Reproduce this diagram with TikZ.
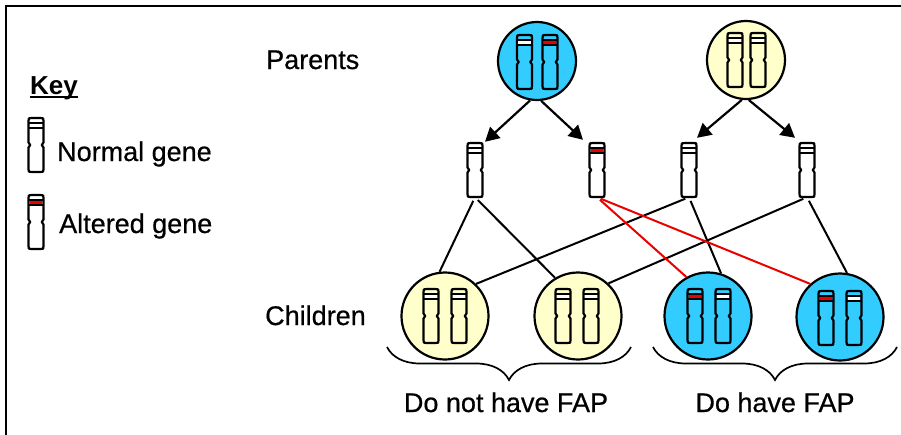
\documentclass[tikz,border=0pt]{standalone}
\usepackage{fontspec}
\setmainfont{Liberation Sans}
\usetikzlibrary{positioning}
\usetikzlibrary{arrows.meta}
\usetikzlibrary{decorations.pathreplacing}
\definecolor{fapblue}{RGB}{51,204,255}
\definecolor{fapyellow}{RGB}{255,255,204}
\definecolor{fapred}{RGB}{235,0,0}
\tikzset{
 pics/chromo/.style 2 args={
  code={
   \path[draw, fill=#1, line width=2.2pt, line join=round] (-7.5,-2.5) -- (-7.5,-24) .. controls (-7.5,-27) .. (-4.5,-27) -- (4.5,-27) .. controls (7.5,-27) .. (7.5,-24) -- (7.5,-2.5) -- (5.8,0) -- (7.5,2.5) -- (7.5,24) .. controls (7.5,27) .. (4.5,27) -- (-4.5,27) .. controls (-7.5,27) .. (-7.5,24) -- (-7.5,2.5) -- (-5.8,0) -- cycle;
   \fill[#2] (-6.4,-22) rectangle (6.4,-17);
   \draw[line width=1.5pt] (-7.5,-22) -- (7.5,-22) (-7.5,-17) -- (7.5,-17);
   \node[inner sep=0pt, minimum width=15pt, minimum height=54pt] (-c) at (0,0) {};
  }
 }
}
\begin{document}
\begin{tikzpicture}[x=1pt, y=-1pt,
 parent/.style={circle, draw, line width=2.2pt, minimum size=78pt, inner sep=0pt},
 child/.style={circle, draw, line width=2.2pt, minimum size=87pt, inner sep=0pt},
 lbl/.style={font=\fontsize{27}{32}\selectfont\addfontfeature{FakeBold=0.6}, inner sep=0pt, anchor=base west},
 arr/.style={line width=2.2pt, -{Triangle[length=14pt,width=15pt]}},
 link/.style={line width=2pt, shorten <=4pt},
 brace/.style={line width=1.7pt, decorate, decoration={brace, amplitude=33pt, mirror}}]
 \useasboundingbox (0,0) rectangle (901,434);
 \draw[line width=2.4pt] (6,440) -- (6,6) -- (905,6);
 \node[lbl, font=\fontsize{26}{30}\selectfont\bfseries] (key) at (30,94) {Key};
 \draw[line width=2pt] ([yshift=-3pt]key.base west) -- ([yshift=-3pt]key.base east);
 \pic (knorm) at (36,145) {chromo={white}{white}};
 \pic (kalt) at (36,222) {chromo={white}{fapred}};
 \node[lbl] (normal) at (57,161) {Normal gene};
 \node[lbl] (altered) at (59,233) {Altered gene};
 \node[lbl] (parents) at (266,69) {Parents};
 \node[lbl] (children) at (265,325) {Children};
 \node[parent, fill=fapblue] (p1) at (537,61) {};
 \node[parent, fill=fapyellow] (p2) at (746,60) {};
 \pic (p1a) at (524.5,62) {chromo={fapblue}{white}};
 \pic (p1b) at (550,62) {chromo={fapblue}{fapred}};
 \pic (p2a) at (735,60) {chromo={fapyellow}{white}};
 \pic (p2b) at (758,60) {chromo={fapyellow}{white}};
 \pic (g1) at (475,170) {chromo={white}{white}};
 \pic (g2) at (597,170) {chromo={white}{fapred}};
 \pic (g3) at (689,170) {chromo={white}{white}};
 \pic (g4) at (807,170) {chromo={white}{white}};
 \draw[arr] (p1.260) -- ([xshift=10pt,yshift=1pt]g1-c.north);
 \draw[arr] (p1.276) -- ([xshift=-14pt,yshift=3pt]g2-c.north);
 \draw[arr] (p2.264) -- ([xshift=8pt,yshift=5pt]g3-c.north);
 \draw[arr] (p2.274) -- ([xshift=-12pt,yshift=5pt]g4-c.north);
 \node[child, fill=fapyellow] (c1) at (445,316) {};
 \node[child, fill=fapyellow] (c2) at (578,316) {};
 \node[child, fill=fapblue] (c3) at (708,316) {};
 \node[child, fill=fapblue] (c4) at (840,317) {};
 \pic (c1a) at (431,316) {chromo={fapyellow}{white}};
 \pic (c1b) at (459,316) {chromo={fapyellow}{white}};
 \pic (c2a) at (563,316) {chromo={fapyellow}{white}};
 \pic (c2b) at (591,316) {chromo={fapyellow}{white}};
 \pic (c3a) at (695,316) {chromo={fapblue}{fapred}};
 \pic (c3b) at (723,316) {chromo={fapblue}{white}};
 \pic (c4a) at (826,318) {chromo={fapblue}{fapred}};
 \pic (c4b) at (854,318) {chromo={fapblue}{white}};
 \draw[link] (g1-c.south) -- (c1.97);
 \draw[link] (g1-c.south) -- (c2.121);
 \draw[link] (g3-c.south) -- (c1.46);
 \draw[link] (g3-c.south) -- (c3.73);
 \draw[link] (g4-c.south) -- (c2.47);
 \draw[link] (g4-c.south) -- (c4.81);
 \draw[link, fapred] (g2-c.south) -- (c3.119);
 \draw[link, fapred] (g2-c.south) -- (c4.132);
 \draw[brace] (387,347) -- (631,347);
 \draw[brace] (653,347) -- (897,347);
 \node[lbl, anchor=base] (nofap) at (506,412) {Do not have FAP};
 \node[lbl, anchor=base] (fap) at (775,412) {Do have FAP};
\end{tikzpicture}
\end{document}
